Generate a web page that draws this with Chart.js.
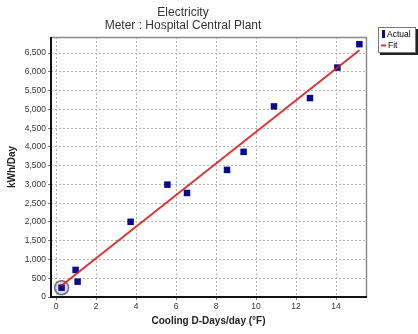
<!DOCTYPE html>
<html><head><meta charset="utf-8">
<script src="https://cdn.jsdelivr.net/npm/chart.js@4/dist/chart.umd.min.js"></script>
<style>html,body{margin:0;padding:0;background:#fff}canvas{display:block}</style>
</head><body>
<canvas id="c" width="418" height="334"></canvas>
<script>
// ---- data ----
const actualX = [0.28, 0.98, 1.08, 3.73, 5.57, 6.55, 8.55, 9.38, 10.9, 12.7, 14.07, 15.17];
const actualY = [249, 722, 409, 2005, 2995, 2773, 3388, 3869, 5080, 5302, 6115, 6738];
const fitX = [0.28, 15.17];
const fitY = [305, 6575];
const highlightX = [0.28];
const highlightY = [249];
const xTickValues = [0, 2, 4, 6, 8, 10, 12, 14];
const yTickValues = [0, 500, 1000, 1500, 2000, 2500, 3000, 3500, 4000, 4500, 5000, 5500, 6000, 6500];
const titleText = 'Electricity';
const subtitleText = 'Meter : Hospital Central Plant';
const xTitle = 'Cooling D-Days/day (\u00B0F)';
const yTitle = 'kWh/Day';
const seriesNames = ['Actual', 'Fit'];

const FONT = "'Liberation Sans', Arial, sans-serif";
const toPts = (xs, ys) => xs.map((x, i) => ({x: x, y: ys[i]}));

const framePlugin = {
  id: 'frame',
  afterDatasetsDraw(chart) {
    const a = chart.chartArea, ctx = chart.ctx;
    ctx.save();
    ctx.lineWidth = 1.5;
    ctx.strokeStyle = '#8a8a8a';
    ctx.beginPath();
    ctx.moveTo(a.left, a.top + 0.5); ctx.lineTo(a.right + 0.5, a.top + 0.5);
    ctx.lineTo(a.right + 0.5, a.bottom);
    ctx.stroke();
    ctx.lineWidth = 2;
    ctx.strokeStyle = '#111';
    ctx.beginPath();
    ctx.moveTo(a.left, a.top); ctx.lineTo(a.left, a.bottom); ctx.lineTo(a.right + 1, a.bottom);
    ctx.stroke();
    ctx.restore();
  }
};

const legendPlugin = {
  id: 'boxLegend',
  afterDraw(chart) {
    const ctx = chart.ctx;
    const bx = 378, by = 27, bw = 38, bh = 26;
    ctx.save();
    ctx.fillStyle = '#222';
    ctx.fillRect(bx + 2, by + 2, bw, bh);
    ctx.fillStyle = '#fff';
    ctx.fillRect(bx, by, bw, bh);
    ctx.strokeStyle = '#777';
    ctx.lineWidth = 1;
    ctx.strokeRect(bx + 0.5, by + 0.5, bw - 1, bh - 1);
    ctx.font = '8.5px ' + FONT;
    ctx.textBaseline = 'middle';
    const dsA = chart.data.datasets.find(d => d.label === seriesNames[0]);
    const dsF = chart.data.datasets.find(d => d.label === seriesNames[1]);
    ctx.fillStyle = dsA.pointBackgroundColor;
    ctx.fillRect(bx + 4, by + 3, 3, 8);
    ctx.fillStyle = '#000';
    ctx.fillText(dsA.label, bx + 9, by + 7.5);
    ctx.strokeStyle = dsF.borderColor;
    ctx.lineWidth = 2;
    ctx.beginPath(); ctx.moveTo(bx + 3, by + 18.5); ctx.lineTo(bx + 8, by + 18.5); ctx.stroke();
    ctx.fillText(dsF.label, bx + 10, by + 18.5);
    ctx.restore();
  }
};

const gridOpts = {color: '#b4b4b4', lineWidth: 1, tickLength: 3, tickColor: '#777', tickBorderDash: [], drawTicks: true};

new Chart(document.getElementById('c'), {
  type: 'scatter',
  data: {
    datasets: [
      {
        label: seriesNames[0],
        data: toPts(actualX, actualY),
        pointStyle: 'rect',
        pointRadius: 4.6,
        pointHoverRadius: 4.6,
        pointBackgroundColor: '#0a0a8c',
        pointBorderColor: '#0a0a8c',
        pointBorderWidth: 0,
        showLine: false,
        order: 1
      },
      {
        label: seriesNames[1],
        data: toPts(fitX, fitY),
        showLine: true,
        borderColor: 'rgba(214,30,30,0.9)',
        borderWidth: 2,
        pointRadius: 0,
        pointHoverRadius: 0,
        order: 0
      },
      {
        data: toPts(highlightX, highlightY),
        pointStyle: 'circle',
        pointRadius: 7,
        pointHoverRadius: 7,
        pointBackgroundColor: 'rgba(190,190,215,0.6)',
        pointBorderColor: '#707070',
        pointBorderWidth: 1.5,
        showLine: false,
        order: 2
      }
    ]
  },
  options: {
    responsive: false,
    animation: false,
    devicePixelRatio: 1,
    layout: {padding: {left: 0, right: 52, top: 0, bottom: 0}},
    plugins: {
      legend: {display: false},
      tooltip: {enabled: false},
      title: {
        display: true, text: titleText, color: '#333',
        font: {family: FONT, size: 12, weight: 'normal', lineHeight: 1},
        padding: {top: 7, bottom: 1}
      },
      subtitle: {
        display: true, text: subtitleText, color: '#333',
        font: {family: FONT, size: 12, weight: 'normal', lineHeight: 1},
        padding: {top: 0, bottom: 5}
      }
    },
    scales: {
      x: {
        type: 'linear', min: -0.25, max: 15.5,
        afterBuildTicks: s => { s.ticks = xTickValues.map(v => ({value: v})); },
        afterFit: s => { s.height = 37; },
        ticks: {color: '#333', font: {family: FONT, size: 8.5}, padding: 2, maxRotation: 0,
                callback: v => String(v)},
        grid: gridOpts,
        border: {display: false, dash: [2, 2]},
        title: {display: true, text: xTitle, color: '#222',
                font: {family: FONT, size: 10, weight: 'bold', lineHeight: 1.2}, padding: {top: 0, bottom: 7}}
      },
      y: {
        type: 'linear', min: 0, max: 6930,
        afterBuildTicks: s => { s.ticks = yTickValues.map(v => ({value: v})); },
        afterFit: s => { s.width = 51; },
        ticks: {color: '#333', font: {family: FONT, size: 8.5}, padding: 2,
                callback: v => v.toLocaleString('en-US')},
        grid: gridOpts,
        border: {display: false, dash: [2, 2]},
        title: {display: true, text: yTitle, color: '#222',
                font: {family: FONT, size: 10, weight: 'bold', lineHeight: 1.2}, padding: {top: 6, bottom: 0}}
      }
    }
  },
  plugins: [framePlugin, legendPlugin]
});
</script>
</body></html>
